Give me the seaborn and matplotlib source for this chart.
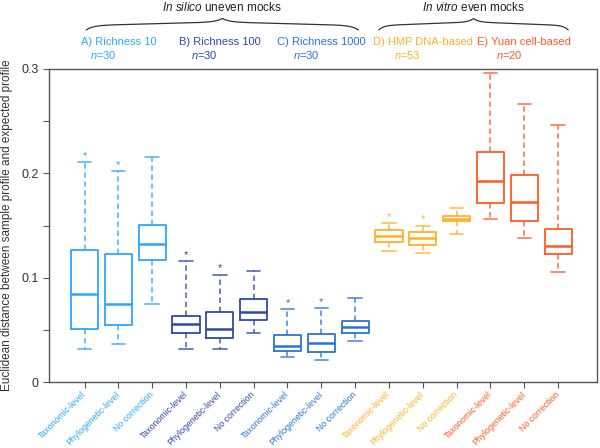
import numpy as np
import matplotlib
matplotlib.use("Agg")
import matplotlib.pyplot as plt
import matplotlib.transforms as mtransforms
import pandas as pd
import seaborn as sns

# group info
groups = ["A) Richness 10", "B) Richness 100", "C) Richness 1000",
          "D) HMP DNA-based", "E) Yuan cell-based"]
group_n = [30, 30, 30, 53, 20]
group_colors = ["#2ba8ff", "#2c4aa8", "#2a74d8", "#ffb028", "#ff5a22"]
methods = ["Taxonomic-level", "Phylogenetic-level", "No correction"]

# five-number summaries, one entry per box (group-major order)
low = [0.032, 0.037, 0.0745,
       0.0316, 0.032, 0.0467,
       0.024, 0.0214, 0.0396,
       0.1256, 0.1234, 0.1419,
       0.156, 0.138, 0.1058]
q1 = [0.051, 0.055, 0.117,
      0.0467, 0.0425, 0.0594,
      0.030, 0.0288, 0.047,
      0.134, 0.1313, 0.154,
      0.1713, 0.154, 0.1227]
med = [0.084, 0.075, 0.132,
       0.0553, 0.0505, 0.067,
       0.0345, 0.0374, 0.0524,
       0.140, 0.1384, 0.1566,
       0.1927, 0.1726, 0.1307]
q3 = [0.127, 0.123, 0.151,
      0.0636, 0.0674, 0.080,
      0.0454, 0.0463, 0.0585,
      0.146, 0.1438, 0.1589,
      0.220, 0.198, 0.147]
high = [0.211, 0.202, 0.216,
        0.116, 0.103, 0.1064,
        0.0697, 0.071, 0.0805,
        0.152, 0.150, 0.167,
        0.296, 0.266, 0.246]
starred = [True, True, False] * 4 + [False, False, False]

y_ticks = [0, 0.1, 0.2, 0.3]
y_tick_labels = ["0", "0.1", "0.2", "0.3"]
y_minor = [0.05, 0.15, 0.25]

# long-form table: five points per box reproduce its quartiles exactly
rows = []
for i in range(len(med)):
    for v in (low[i], q1[i], med[i], q3[i], high[i]):
        rows.append({"box": i, "value": v})
df = pd.DataFrame(rows)

box_colors = [c for c in group_colors for _ in methods]
box_labels = methods * len(groups)

sns.set_theme(style="ticks")
plt.rcParams["font.family"] = ["Liberation Sans", "DejaVu Sans"]
plt.rcParams["mathtext.fontset"] = "custom"
plt.rcParams["mathtext.rm"] = "Liberation Sans"
plt.rcParams["mathtext.it"] = "Liberation Sans:italic"

fig = plt.figure(figsize=(6, 4.48), dpi=100)
ax = fig.add_axes([0.0817, 0.147, 0.9133, 0.699])

sns.boxplot(data=df, x="box", y="value", hue="box",
            palette=dict(zip(range(len(med)), box_colors)),
            fill=False, whis=(0, 100), width=0.8, linewidth=1.3,
            whiskerprops=dict(linestyle=(0, (3, 2)), alpha=0.75),
            capprops=dict(alpha=0.75),
            medianprops=dict(linewidth=1.8),
            legend=False, ax=ax)

# significance stars
for i in range(len(med)):
    if starred[i]:
        ax.text(i, high[i] + 0.003, "*", ha="center", va="baseline",
                color=box_colors[i], fontsize=8)

ax.set_xlim(-1.05, 15.15)
ax.set_ylim(0, 0.3)
ax.set_yticks(y_ticks)
ax.set_yticklabels(y_tick_labels, fontsize=9, color="#333333")
ax.set_yticks(y_minor, minor=True)
ax.tick_params(axis="y", which="both", length=4, width=0.8, color="#555555")
ax.tick_params(axis="x", length=4, width=0.8, color="#555555")
for s in ax.spines.values():
    s.set_color("#555555")
    s.set_linewidth(1.0)

ax.set_xticks(range(len(med)))
ax.set_xticklabels(box_labels, rotation=45, ha="right", va="center",
                   rotation_mode="anchor", fontsize=6.3)
for lab, c in zip(ax.get_xticklabels(), box_colors):
    lab.set_color(c)
ax.tick_params(axis="x", pad=4)
ax.set_xlabel("")
ax.set_ylabel("Euclidean distance between sample profile and expected profile",
              fontsize=8.5, color="#333333", labelpad=6)

# headers above the plot
trans = mtransforms.blended_transform_factory(ax.transData, fig.transFigure)
for g, (name, n, c) in enumerate(zip(groups, group_n, group_colors)):
    xc = g * 3 + 1
    ax.text(xc, 0.906, name, transform=trans, ha="center", va="center",
            color=c, fontsize=8)
    ax.text(xc - 0.45, 0.877, "$n$=%d" % n, transform=trans, ha="center",
            va="center", color=c, fontsize=8)


def draw_brace(x0, x1, y0):
    t = np.linspace(0, 1, 600)
    u = np.minimum(t, 1 - t) * 2
    up = 4.5 * (1 - np.exp(-u / 0.05)) + 3.5 * u + 3.5 * np.exp(-(1 - u) / 0.05)
    ax.plot(x0 + (x1 - x0) * t, y0 + up / 448, transform=trans,
            color="#333333", lw=0.9, clip_on=False)


draw_brace(0.05, 8.1, 1 - 30 / 448)
draw_brace(8.7, 14.3, 1 - 30 / 448)
ax.text(4.07, 0.983, "$In\\ silico$ uneven mocks", transform=trans,
        ha="center", va="center", fontsize=8.5, color="#222222")
ax.text(11.5, 0.983, "$In\\ vitro$ even mocks", transform=trans,
        ha="center", va="center", fontsize=8.5, color="#222222")

fig.savefig("out.png", dpi=100)
